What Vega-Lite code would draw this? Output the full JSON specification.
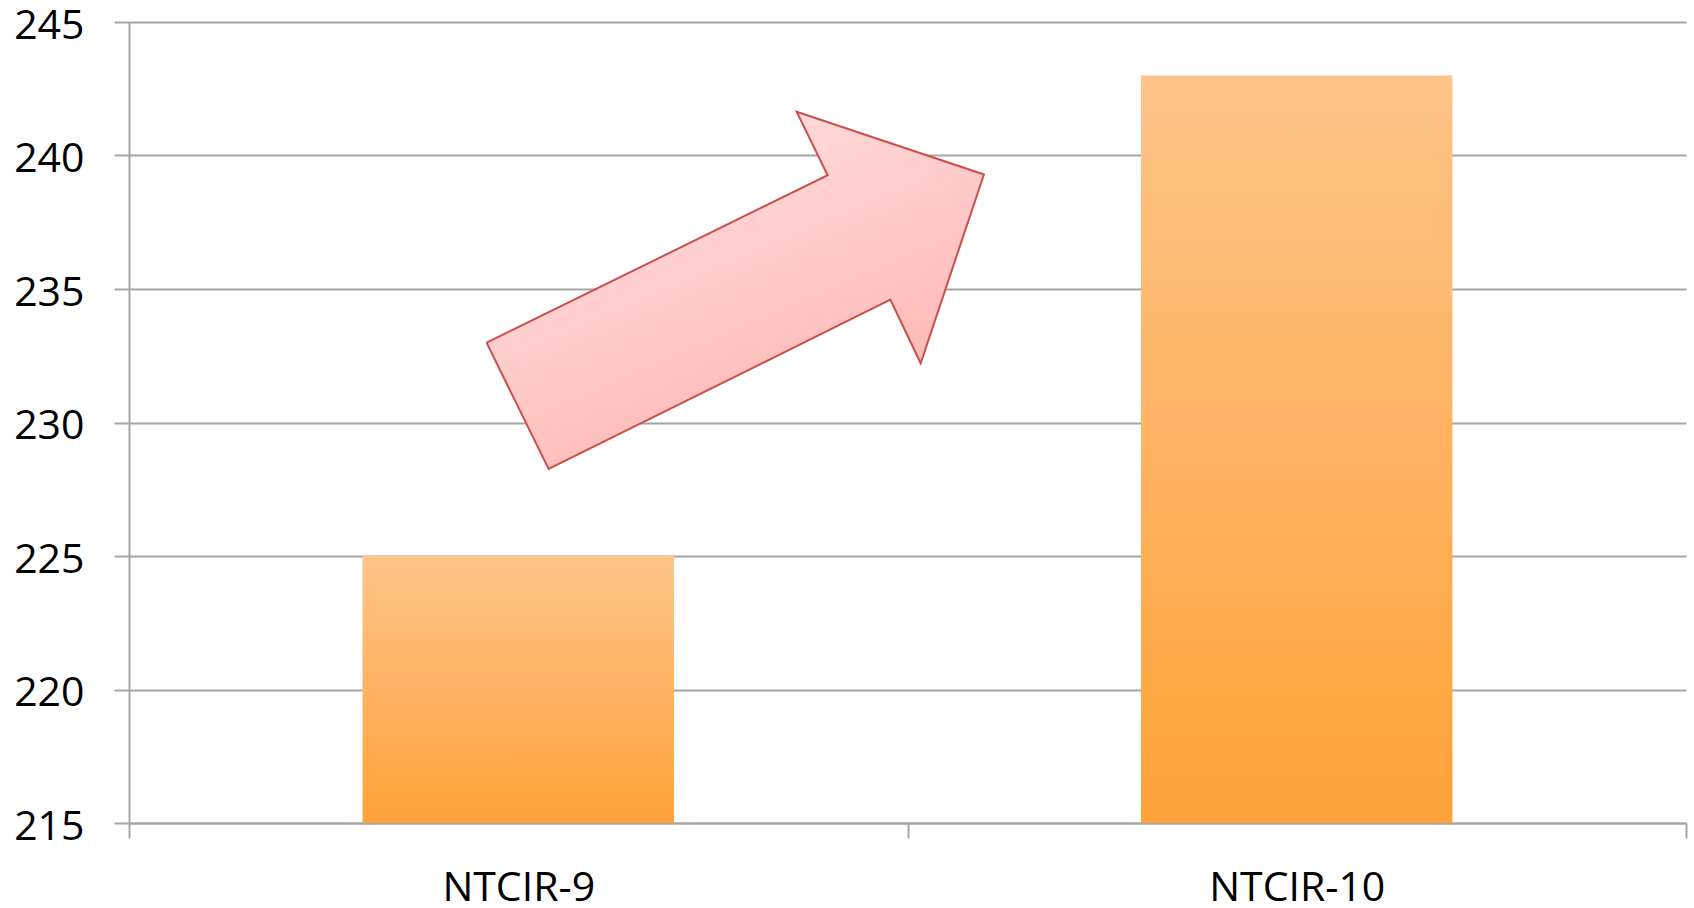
{
  "$schema": "https://vega.github.io/schema/vega-lite/v6.json",
  "width": 1557,
  "height": 801,
  "autosize": {"type": "none"},
  "padding": {"left": 129, "top": 22, "right": 8, "bottom": 85},
  "background": "white",
  "config": {
    "view": {"stroke": null},
    "axis": {
      "labelFont": "Open Sans",
      "labelFontSize": 41,
      "labelColor": "#000000",
      "domainColor": "#a6a6a6",
      "domainWidth": 2,
      "tickColor": "#a6a6a6",
      "tickWidth": 2,
      "tickSize": 15,
      "gridColor": "#a6a6a6",
      "gridWidth": 2,
      "title": null
    }
  },
  "datasets": {
    "bars": [
      {"label": "NTCIR-9", "value": 225},
      {"label": "NTCIR-10", "value": 243}
    ],
    "arrow": [
      {"i": 1, "ax": 0.4593, "ay": 232.99},
      {"i": 2, "ax": 0.539, "ay": 228.26},
      {"i": 3, "ax": 0.978, "ay": 234.6},
      {"i": 4, "ax": 1.0169, "ay": 232.22},
      {"i": 5, "ax": 1.0982, "ay": 239.29},
      {"i": 6, "ax": 0.8576, "ay": 241.64},
      {"i": 7, "ax": 0.8974, "ay": 239.26},
      {"i": 8, "ax": 0.4593, "ay": 232.99}
    ]
  },
  "layer": [
    {
      "data": {"name": "bars"},
      "mark": {
        "type": "bar",
        "width": {"band": 0.4},
        "fill": {
          "gradient": "linear",
          "x1": 0, "y1": 0, "x2": 0, "y2": 1,
          "stops": [
            {"offset": 0, "color": "#fec489"},
            {"offset": 1, "color": "#fea238"}
          ]
        }
      },
      "encoding": {
        "x": {
          "field": "label",
          "type": "nominal",
          "sort": ["NTCIR-9", "NTCIR-10"],
          "scale": {"paddingInner": 0, "paddingOuter": 0},
          "axis": {
            "labelAngle": 0,
            "tickBand": "extent",
            "labelPadding": 30,
            "labelBaseline": "top",
            "grid": false
          }
        },
        "y": {
          "field": "value",
          "type": "quantitative",
          "scale": {"domain": [215, 245], "nice": false, "zero": false},
          "axis": {
            "values": [215, 220, 225, 230, 235, 240, 245],
            "grid": true,
            "labelPadding": 30,
            "labelBaseline": "middle",
            "labelOffset": 4
          }
        },
        "y2": {"datum": 215}
      }
    },
    {
      "data": {"name": "arrow"},
      "mark": {
        "type": "line",
        "fill": {
          "gradient": "linear",
          "x1": 0, "y1": 0, "x2": 0.6, "y2": 1,
          "stops": [
            {"offset": 0, "color": "#ffe6e6"},
            {"offset": 1, "color": "#ffb6b3"}
          ]
        },
        "stroke": "#c9504d",
        "strokeWidth": 2,
        "strokeJoin": "miter",
        "interpolate": "linear"
      },
      "encoding": {
        "x": {
          "field": "ax",
          "type": "quantitative",
          "scale": {"domain": [0, 2], "nice": false, "zero": false},
          "axis": null
        },
        "y": {"field": "ay", "type": "quantitative"},
        "order": {"field": "i", "type": "quantitative"}
      }
    }
  ],
  "resolve": {"scale": {"x": "independent"}, "axis": {"x": "independent"}}
}
